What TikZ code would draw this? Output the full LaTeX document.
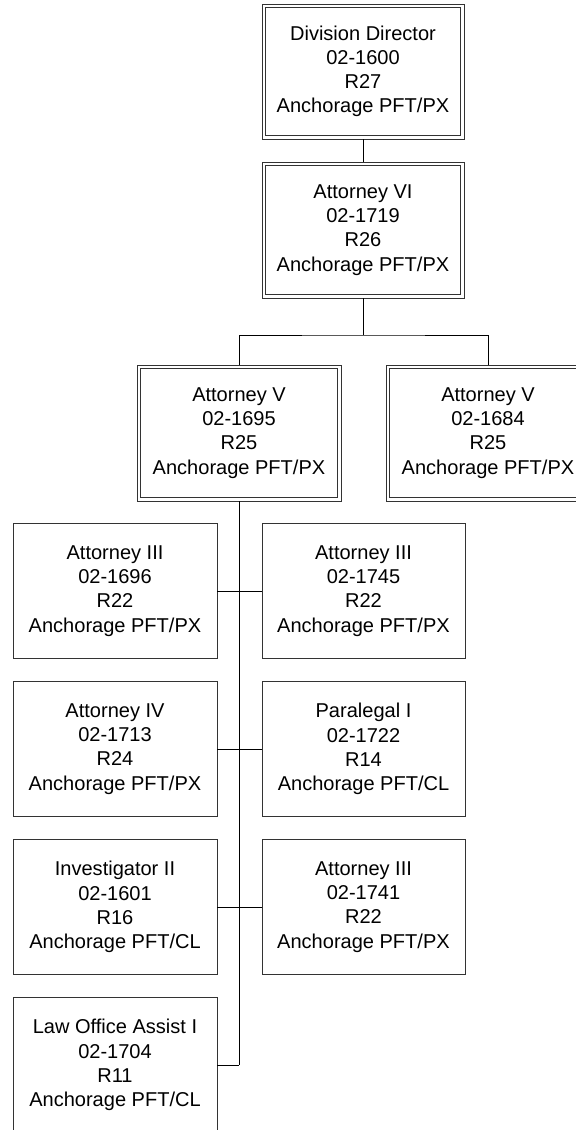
\documentclass[tikz,border=0pt]{standalone}
\usepackage{fontspec}
\setmainfont{Liberation Sans}
\begin{document}
\begin{tikzpicture}[x=1bp,y=-1bp,
  box/.style={draw=black!80, line width=0.9bp, rectangle, inner sep=0pt,
    align=center, font=\fontsize{20.1}{24.3}\selectfont,
    minimum width=204bp, minimum height=135.5bp},
  dbox/.style={box, minimum width=202bp, minimum height=135bp},
  innerline/.style={draw=black!80, line width=0.9bp},
  conn/.style={draw=black, line width=1bp}]
\useasboundingbox (0,0) rectangle (576,1130);
\clip (0,0) rectangle (576,1130);
\node[dbox] (dd) at (363,71.5) {Division Director\\02-1600\\R27\\Anchorage PFT/PX};
\node[dbox, minimum height=136bp] (av6) at (363,230) {Attorney VI\\02-1719\\R26\\Anchorage PFT/PX};
\node[dbox, minimum width=204bp, minimum height=136bp] (av5a) at (239,433) {Attorney V\\02-1695\\R25\\Anchorage PFT/PX};
\node[dbox, minimum width=204bp, minimum height=136bp] (av5b) at (488,433) {Attorney V\\02-1684\\R25\\Anchorage PFT/PX};
\foreach \n in {dd,av6,av5a,av5b}
  \draw[innerline] ([shift={(4bp,-4bp)}]\n.north west) rectangle ([shift={(-4bp,4bp)}]\n.south east);
\node[box] (a3l) at (115,591) {Attorney III\\02-1696\\R22\\Anchorage PFT/PX};
\node[box, minimum width=203bp] (a3r) at (363.5,591) {Attorney III\\02-1745\\R22\\Anchorage PFT/PX};
\node[box] (a4) at (115,749) {Attorney IV\\02-1713\\R24\\Anchorage PFT/PX};
\node[box, minimum width=203bp] (pl) at (363.5,749) {Paralegal I\\02-1722\\R14\\Anchorage PFT/CL};
\node[box] (inv) at (115,907) {Investigator II\\02-1601\\R16\\Anchorage PFT/CL};
\node[box, minimum width=203bp] (a3b) at (363.5,907) {Attorney III\\02-1741\\R22\\Anchorage PFT/PX};
\node[box] (loa) at (115,1065) {Law Office Assist I\\02-1704\\R11\\Anchorage PFT/CL};
\coordinate (split) at (363,335);
\coordinate (trunkend) at (239,1065);
\draw[conn] (dd.south) -- (av6.north);
\draw[conn] (av6.south) -- (split);
\draw[conn] (av5a.north) |- (split) -| (av5b.north);
\draw[conn] (av5a.south) -- (trunkend);
\draw[conn] (a3l.east) -- (a3r.west);
\draw[conn] (a4.east) -- (pl.west);
\draw[conn] (inv.east) -- (a3b.west);
\draw[conn] (loa.east) -- (trunkend);
\end{tikzpicture}
\end{document}
